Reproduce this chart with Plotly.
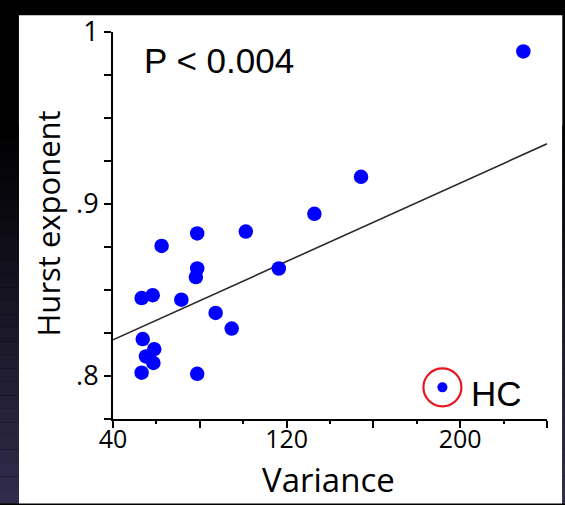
import plotly.graph_objects as go

# ---- data ----
variance = [62.4, 78.8, 101.2, 78.8, 78.2, 116.4, 53.2, 58.3, 71.5, 87.3, 94.7,
            53.7, 59.0, 55.2, 58.6, 53.2, 78.8, 132.8, 154.3, 229.1]
hurst = [0.8756, 0.8829, 0.8840, 0.8625, 0.8575, 0.8625, 0.8453, 0.8470, 0.8444,
         0.8367, 0.8276, 0.8215, 0.8156, 0.8114, 0.8076, 0.8019, 0.8013, 0.8943,
         0.9158, 0.9887]
fit_x = [40, 240]
fit_y = [0.821, 0.935]
hc_x = [191.8]
hc_y = [0.7934]
y_tickvals = [0.775, 0.8, 0.825, 0.85, 0.875, 0.9, 0.925, 0.95, 0.975, 1.0]
y_ticktext = ["", ".8", "", "", "", ".9", "", "", "", "1"]
x_tickvals = [40, 80, 120, 160, 200, 240]
x_ticktext = ["40", "", "120", "", "200", ""]
x_minorvals = [60, 100, 140, 180, 220]

W, H = 565, 505
L, R, T, B = 113, 565 - 546.7, 25, 505 - 419
pw, ph = W - L - R, H - T - B


def px2paper(x, y):
    return (x - L) / pw, (H - B - y) / ph


fig = go.Figure()

fig.add_trace(go.Scatter(x=fit_x, y=fit_y, mode="lines",
                         line=dict(color="#2a2a2a", width=1.6), showlegend=False))
fig.add_trace(go.Scatter(x=variance, y=hurst, mode="markers",
                         marker=dict(color="#0000ff", size=14.5, line=dict(width=0)),
                         showlegend=False))
# HC legend-like marker
fig.add_trace(go.Scatter(x=hc_x, y=hc_y, mode="markers",
                         marker=dict(color="#0000ff", size=10, line=dict(width=0)),
                         showlegend=False, cliponaxis=False))
fig.add_trace(go.Scatter(x=hc_x, y=hc_y, mode="markers",
                         marker=dict(symbol="circle-open", color="#e8141c", size=38,
                                     line=dict(width=2.2, color="#e8141c")),
                         showlegend=False, cliponaxis=False))

shapes = []
# white panel
x0, y0 = px2paper(19, 505)
x1, y1 = px2paper(562, 8)
shapes.append(dict(type="rect", xref="paper", yref="paper", x0=x0, x1=x1, y0=y0, y1=y1,
                   fillcolor="white", line=dict(width=0), layer="below"))
# left / right strip gradient (black -> navy)
n = 28
for i in range(n):
    ya = 120 + (505 - 120) * i / n
    yb = 120 + (505 - 120) * (i + 1) / n
    t = (i + 0.5) / n
    c = (int(50 * t), int(45 * t), int(76 * t))
    ax0, ay0 = px2paper(0, yb)
    ax1, ay1 = px2paper(19, ya)
    shapes.append(dict(type="rect", xref="paper", yref="paper", x0=ax0, x1=ax1, y0=ay0, y1=ay1,
                       fillcolor="rgb(%d,%d,%d)" % c, line=dict(width=0), layer="below"))
    bx0, by0 = px2paper(562, yb)
    bx1, by1 = px2paper(565, ya)
    shapes.append(dict(type="rect", xref="paper", yref="paper", x0=bx0, x1=bx1, y0=by0, y1=by1,
                       fillcolor="rgb(%d,%d,%d)" % c, line=dict(width=0), layer="below"))

annotations = []
ax, ay = px2paper(48, 220)
annotations.append(dict(text="Hurst exponent", xref="paper", yref="paper", x=ax, y=ay,
                        textangle=-90, showarrow=False, xanchor="center", yanchor="middle",
                        font=dict(family="Open Sans", size=31, color="black")))
ax, ay = px2paper(328, 505)
annotations.append(dict(text="Variance", xref="paper", yref="paper", x=ax, y=ay,
                        showarrow=False, xanchor="center", yanchor="bottom", borderpad=0,
                        font=dict(family="Open Sans", size=33, color="black")))
annotations.append(dict(text="P < 0.004", xref="x", yref="y", x=53.2, y=0.9834,
                        showarrow=False, xanchor="left", yanchor="middle",
                        font=dict(family="Liberation Sans", size=35, color="black")))
annotations.append(dict(text="HC", xref="x", yref="y", x=204.0, y=0.7899,
                        showarrow=False, xanchor="left", yanchor="middle",
                        font=dict(family="Liberation Sans", size=35, color="black")))

fig.update_layout(
    width=W, height=H,
    margin=dict(l=L, r=R, t=T, b=B, pad=0),
    paper_bgcolor="black",
    plot_bgcolor="rgba(0,0,0,0)",
    shapes=shapes,
    annotations=annotations,
    xaxis=dict(range=[40, 240], tickmode="array", tickvals=x_tickvals, ticktext=x_ticktext,
               ticks="outside", ticklen=7, tickwidth=1.5, tickcolor="black",
               showline=True, linecolor="black", linewidth=2, showgrid=False, zeroline=False,
               ticklabelstandoff=-10,
               tickfont=dict(family="Open Sans", size=25, color="black"),
               minor=dict(tickvals=x_minorvals, ticks="outside", ticklen=3, tickwidth=1.5,
                          tickcolor="black", showgrid=False)),
    yaxis=dict(range=[0.775, 1.0], tickmode="array", tickvals=y_tickvals, ticktext=y_ticktext,
               ticks="outside", ticklen=7, tickwidth=1.5, tickcolor="black",
               showline=True, linecolor="black", linewidth=2, showgrid=False, zeroline=False,
               tickfont=dict(family="Open Sans", size=27, color="black")),
)

fig.write_html("out.html")
